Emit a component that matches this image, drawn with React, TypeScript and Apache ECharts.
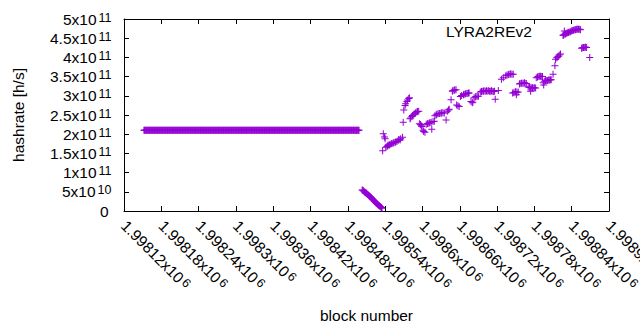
import React, { useEffect, useRef } from 'react';
import * as echarts from 'echarts';

const FONT = '"Liberation Sans", Arial, Helvetica, sans-serif';
const MARK_COLOR = '#9400d3';
const PLUS = 'path://M3,0h1v3h3v1h-3v3h-1v-3h-3v-1h3z';

const seriesName = 'LYRA2REv2';
const xAxisName = 'block number';
const yAxisName = 'hashrate [h/s]';

const xMin = 1998120;
const xMax = 1998900;
const xStep = 60;
const yMin = 0;
const yMax = 5e11;
const yStep = 5e10;

// flat run of constant hashrate (one point per block)
const flatFirstBlock = 1998152;
const flatLastBlock = 1998498;
const flatHashrate = 2.1e11;

// drop after the flat run, one value per consecutive block
const dropFirstBlock = 1998503;
const dropHashrate = [
  5.5e10, 5.38e10, 5.25e10, 5.12e10, 4.98e10, 4.85e10, 4.72e10, 4.6e10, 4.45e10, 4.3e10,
  4.15e10, 4.0e10, 3.85e10, 3.7e10, 3.55e10, 3.4e10, 3.22e10, 3.05e10, 2.88e10, 2.7e10,
  2.52e10, 2.35e10, 2.18e10, 2.0e10, 1.86e10, 1.72e10, 1.58e10, 1.45e10, 1.33e10, 1.2e10,
  1.05e10, 0.9e10, 0.72e10,
];

// scattered recovery: [block, hashrate]
const recoveryPoints: [number, number][] = [
  [1998536, 1.57e11], [1998537, 2.01e11], [1998539, 1.93e11], [1998540, 1.88e11],
  [1998541, 1.66e11], [1998543, 1.68e11], [1998544, 1.70e11], [1998545, 1.72e11],
  [1998547, 1.72e11], [1998548, 1.74e11], [1998550, 1.75e11], [1998551, 1.76e11],
  [1998553, 1.77e11], [1998554, 1.78e11], [1998556, 1.79e11], [1998557, 1.80e11],
  [1998559, 1.81e11], [1998561, 1.84e11], [1998562, 1.86e11], [1998564, 1.85e11],
  [1998565, 1.88e11], [1998568, 1.92e11], [1998569, 2.31e11], [1998570, 2.63e11],
  [1998572, 2.75e11], [1998573, 2.79e11], [1998575, 2.85e11], [1998576, 2.89e11],
  [1998578, 2.93e11], [1998579, 2.95e11], [1998580, 2.40e11], [1998581, 2.42e11],
  [1998583, 2.46e11], [1998584, 2.49e11], [1998586, 2.52e11], [1998588, 2.54e11],
  [1998589, 2.56e11], [1998591, 2.58e11], [1998592, 2.59e11], [1998594, 2.60e11],
  [1998595, 2.27e11], [1998597, 2.25e11], [1998598, 2.22e11], [1998599, 2.20e11],
  [1998601, 2.10e11], [1998602, 2.07e11], [1998604, 2.05e11], [1998606, 2.26e11],
  [1998608, 2.27e11], [1998609, 2.28e11], [1998611, 2.29e11], [1998612, 2.30e11],
  [1998614, 2.31e11], [1998615, 2.13e11], [1998617, 2.33e11], [1998619, 2.34e11],
  [1998620, 2.48e11], [1998622, 2.50e11], [1998623, 2.52e11], [1998625, 2.53e11],
  [1998627, 2.54e11], [1998628, 2.54e11], [1998630, 2.55e11], [1998631, 2.55e11],
  [1998633, 2.56e11], [1998635, 2.55e11], [1998638, 2.37e11], [1998640, 2.60e11],
  [1998642, 2.63e11], [1998643, 2.65e11], [1998646, 2.90e11], [1998648, 3.12e11],
  [1998649, 3.14e11], [1998651, 3.15e11], [1998652, 3.15e11], [1998654, 3.16e11],
  [1998655, 2.76e11], [1998657, 2.74e11], [1998659, 2.72e11], [1998661, 2.98e11],
  [1998663, 3.01e11], [1998666, 3.03e11], [1998667, 3.04e11], [1998669, 3.05e11],
  [1998670, 3.06e11], [1998672, 3.06e11], [1998674, 3.07e11], [1998675, 3.07e11],
  [1998678, 2.85e11], [1998680, 2.82e11], [1998681, 2.83e11], [1998683, 2.95e11],
  [1998685, 2.97e11], [1998686, 2.98e11], [1998688, 2.99e11], [1998690, 2.99e11],
  [1998693, 3.10e11], [1998695, 3.11e11], [1998696, 3.12e11], [1998698, 3.12e11],
  [1998699, 3.13e11], [1998701, 3.12e11], [1998703, 3.13e11], [1998704, 3.12e11],
  [1998706, 3.13e11], [1998708, 3.12e11], [1998709, 3.12e11], [1998711, 3.13e11],
  [1998712, 3.12e11], [1998714, 3.11e11], [1998716, 3.12e11], [1998717, 2.91e11],
  [1998722, 3.14e11], [1998727, 3.43e11], [1998730, 3.47e11], [1998734, 3.52e11],
  [1998736, 3.54e11], [1998738, 3.55e11], [1998739, 3.56e11], [1998741, 3.57e11],
  [1998742, 3.57e11], [1998744, 3.56e11], [1998746, 3.56e11], [1998745, 3.07e11],
  [1998747, 3.08e11], [1998749, 3.10e11], [1998750, 3.11e11], [1998751, 3.03e11],
  [1998752, 3.09e11], [1998754, 3.10e11], [1998756, 3.31e11], [1998757, 3.32e11],
  [1998759, 3.33e11], [1998760, 3.33e11], [1998762, 3.33e11], [1998764, 3.34e11],
  [1998765, 3.33e11], [1998767, 3.32e11], [1998770, 3.23e11], [1998772, 3.22e11],
  [1998773, 3.22e11], [1998774, 3.12e11], [1998775, 3.21e11], [1998777, 3.21e11],
  [1998778, 3.20e11], [1998780, 3.21e11], [1998782, 3.20e11], [1998783, 3.47e11],
  [1998785, 3.49e11], [1998786, 3.50e11], [1998788, 3.51e11], [1998790, 3.51e11],
  [1998791, 3.50e11], [1998793, 3.50e11], [1998794, 3.34e11], [1998795, 3.28e11],
  [1998796, 3.38e11], [1998798, 3.39e11], [1998799, 3.40e11], [1998801, 3.40e11],
  [1998803, 3.41e11], [1998804, 3.41e11], [1998806, 3.42e11], [1998807, 3.42e11],
  [1998810, 3.56e11], [1998813, 3.78e11], [1998814, 3.95e11], [1998816, 3.99e11],
  [1998817, 4.01e11], [1998819, 4.03e11], [1998820, 4.06e11], [1998822, 4.09e11],
  [1998826, 4.58e11], [1998827, 4.58e11], [1998828, 4.60e11], [1998830, 4.61e11],
  [1998832, 4.63e11], [1998833, 4.64e11], [1998835, 4.65e11], [1998836, 4.66e11],
  [1998838, 4.67e11], [1998840, 4.69e11], [1998841, 4.70e11], [1998843, 4.71e11],
  [1998845, 4.72e11], [1998846, 4.72e11], [1998848, 4.73e11], [1998849, 4.73e11],
  [1998851, 4.73e11], [1998853, 4.73e11], [1998854, 4.72e11], [1998856, 4.24e11],
  [1998857, 4.25e11], [1998859, 4.26e11], [1998861, 4.26e11], [1998862, 4.27e11],
  [1998864, 4.26e11], [1998869, 4.00e11],
];

const TEXT_SIZE = 15.5;
const SUP_SIZE = 12.5;

const rich = {
  m: { fontSize: TEXT_SIZE, fontFamily: FONT, color: '#000', lineHeight: 16 },
  s: {
    fontSize: SUP_SIZE,
    fontFamily: FONT,
    color: '#000',
    lineHeight: 4,
    verticalAlign: 'top',
    padding: [0, 0, 0, 2],
  },
  z: { fontSize: TEXT_SIZE, fontFamily: FONT, color: '#000', lineHeight: 16, padding: [0, 3, 0, 0] },
};

function sci(v: number): string {
  if (v === 0) return '{z|0}';
  const exp = Math.floor(Math.log10(v) + 1e-9);
  const mant = +(v / Math.pow(10, exp)).toFixed(3);
  return `{m|${mant}x10}{s|${exp}}`;
}

function xLabel(v: number): string {
  const mant = +(v / 1e6).toFixed(6);
  return `{m|${mant}x10}{s|6}`;
}

export default function App() {
  const ref = useRef<HTMLDivElement>(null);
  useEffect(() => {
    document.body.style.margin = '0';
    const chart = echarts.init(ref.current!, null, { renderer: 'svg' });

    const data: [number, number][] = [];
    for (let b = flatFirstBlock; b <= flatLastBlock; b++) data.push([b, flatHashrate]);
    dropHashrate.forEach((h, i) => data.push([dropFirstBlock + i, h]));
    recoveryPoints.forEach((p) => data.push(p));

    const tick = { show: true, inside: true, length: 5, lineStyle: { color: '#000', width: 1 } };
    const line = { show: true, onZero: false, lineStyle: { color: '#000', width: 1 } };

    chart.setOption({
      animation: false,
      grid: {
        left: 124,
        right: 31,
        top: 19,
        bottom: 119,
        containLabel: false,
        outerBoundsMode: 'none',
      },
      legend: {
        show: true,
        data: [{ name: seriesName, icon: PLUS }],
        align: 'right',
        left: 446,
        top: 23,
        padding: 0,
        itemWidth: 55,
        itemHeight: 7,
        textStyle: { fontSize: TEXT_SIZE, fontFamily: FONT, color: '#000' },
        itemStyle: { color: MARK_COLOR },
      },
      xAxis: [
        {
          type: 'value',
          min: xMin,
          max: xMax,
          interval: xStep,
          position: 'bottom',
          name: xAxisName,
          nameLocation: 'middle',
          nameGap: 96,
          nameTextStyle: { fontSize: TEXT_SIZE, fontFamily: FONT, color: '#000' },
          axisLine: line,
          axisTick: tick,
          splitLine: { show: false },
          axisLabel: {
            rotate: -45,
            margin: 12,
            formatter: xLabel,
            rich,
            showMinLabel: true,
            showMaxLabel: true,
            hideOverlap: false,
          },
        },
        {
          type: 'value',
          min: xMin,
          max: xMax,
          interval: xStep,
          position: 'top',
          axisLine: line,
          axisTick: tick,
          splitLine: { show: false },
          axisLabel: { show: false },
        },
      ],
      yAxis: [
        {
          type: 'value',
          min: yMin,
          max: yMax,
          interval: yStep,
          position: 'left',
          name: yAxisName,
          nameLocation: 'middle',
          nameRotate: 90,
          nameGap: 98,
          nameTextStyle: { fontSize: TEXT_SIZE, fontFamily: FONT, color: '#000' },
          axisLine: line,
          axisTick: tick,
          splitLine: { show: false },
          axisLabel: {
            margin: 12.5,
            formatter: sci,
            rich,
            showMinLabel: true,
            showMaxLabel: true,
            hideOverlap: false,
          },
        },
        {
          type: 'value',
          min: yMin,
          max: yMax,
          interval: yStep,
          position: 'right',
          axisLine: line,
          axisTick: tick,
          splitLine: { show: false },
          axisLabel: { show: false },
        },
      ],
      series: [
        {
          name: seriesName,
          type: 'scatter',
          xAxisIndex: 0,
          yAxisIndex: 0,
          symbol: PLUS,
          symbolSize: 7,
          itemStyle: { color: MARK_COLOR, opacity: 1 },
          large: false,
          data,
        },
      ],
    });
    return () => chart.dispose();
  }, []);
  return <div ref={ref} style={{ width: 640, height: 330 }} />;
}
